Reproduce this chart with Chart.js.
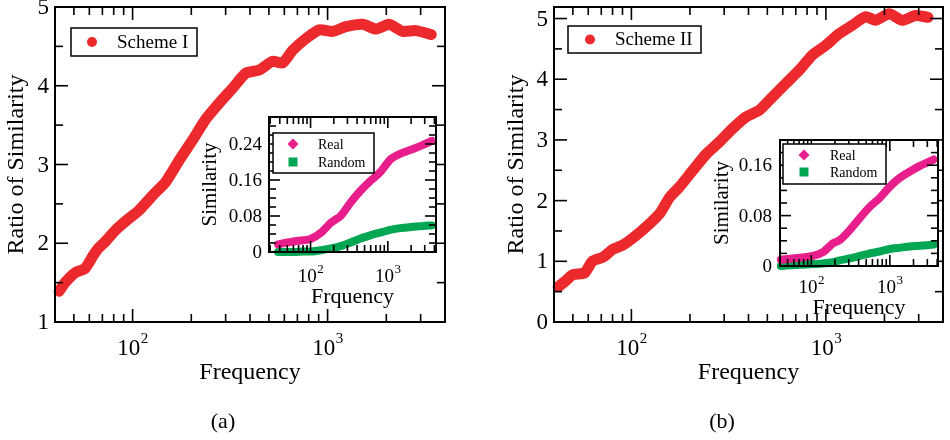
<!DOCTYPE html>
<html>
<head>
<meta charset="utf-8">
<script src="https://cdn.jsdelivr.net/npm/chart.js@4.4.1/dist/chart.umd.min.js"></script>
<style>
  body { margin: 0; background: #fff; width: 950px; height: 440px; position: relative; overflow: hidden; }
  canvas { position: absolute; }
</style>
</head>
<body>
<canvas id="mainA" width="450" height="440" style="left:0;top:0"></canvas>
<canvas id="mainB" width="450" height="440" style="left:500px;top:0"></canvas>
<canvas id="insetA" width="250" height="210" style="left:195px;top:105px"></canvas>
<canvas id="insetB" width="250" height="200" style="left:700px;top:125px"></canvas>
<script>
// ---- data ----
const freqA  = [42, 45, 51, 57, 63, 67, 73, 82, 92, 108, 127, 148, 174, 203, 238, 278, 326, 381, 446, 522, 588, 662, 775, 906, 1061, 1242, 1513, 1770, 2070, 2427, 2838, 3400];
const ratioA = [1.39, 1.50, 1.63, 1.68, 1.85, 1.94, 2.03, 2.17, 2.28, 2.42, 2.61, 2.78, 3.06, 3.31, 3.58, 3.78, 3.97, 4.16, 4.20, 4.31, 4.29, 4.45, 4.60, 4.71, 4.69, 4.75, 4.78, 4.72, 4.78, 4.69, 4.70, 4.65];

const freqB  = [42, 46, 50, 57.5, 63, 71.6, 80.5, 90.6, 106, 124, 140, 157, 177, 207, 243, 284, 332, 389, 455, 532, 623, 730, 853, 1000, 1170, 1370, 1603, 1804, 2112, 2473, 2890, 3350];
const ratioB = [0.58, 0.68, 0.78, 0.81, 1.00, 1.07, 1.20, 1.27, 1.43, 1.62, 1.79, 2.05, 2.23, 2.50, 2.77, 2.97, 3.19, 3.38, 3.49, 3.71, 3.93, 4.15, 4.40, 4.56, 4.75, 4.89, 5.03, 4.97, 5.08, 4.97, 5.05, 5.02];

const insetFreqA = [38, 50, 63, 80, 100, 137, 183, 245, 330, 443, 595, 795, 1070, 1437, 2125, 2850, 3700];
const realA      = [0.017, 0.021, 0.024, 0.026, 0.029, 0.043, 0.065, 0.080, 0.110, 0.136, 0.158, 0.177, 0.205, 0.218, 0.229, 0.238, 0.247];
const randomA    = [0.000, 0.000, 0.000, 0.001, 0.001, 0.004, 0.008, 0.013, 0.021, 0.030, 0.037, 0.043, 0.049, 0.053, 0.056, 0.058, 0.059];

const insetFreqB = [41, 71, 105, 141, 189, 230, 309, 414, 556, 743, 1000, 1343, 1800, 2414, 3600];
const realB      = [0.010, 0.013, 0.016, 0.022, 0.036, 0.041, 0.057, 0.076, 0.094, 0.108, 0.126, 0.140, 0.150, 0.159, 0.169];
const randomB    = [0.000, 0.002, 0.003, 0.004, 0.006, 0.009, 0.012, 0.016, 0.020, 0.023, 0.027, 0.029, 0.031, 0.032, 0.034];

// tick labels
const xDecades     = [2, 3];
const mainTicksA   = [1, 2, 3, 4, 5];
const mainTicksB   = [0, 1, 2, 3, 4, 5];
const insetTicksA  = [0, 0.08, 0.16, 0.24];
const insetTicksB  = [0, 0.08, 0.16];

const RED = "#ec2a2d";
const MAGENTA = "#e81e8c";
const GREEN = "#00a651";
const SERIF = '"Liberation Serif", "Times New Roman", serif';

function pts(xs, ys) {
    return xs.map((x, i) => ({ x, y: ys[i] }));
}

function drawMarker(ctx, kind, x, y, color) {
    ctx.fillStyle = color;
    ctx.beginPath();
    if(kind === "circle") {
        ctx.arc(x, y, 5, 0, Math.PI * 2);
    } else if(kind === "diamond") {
        ctx.moveTo(x, y - 5.5); ctx.lineTo(x + 5.5, y); ctx.lineTo(x, y + 5.5); ctx.lineTo(x - 5.5, y);
        ctx.closePath();
    } else {
        ctx.rect(x - 4.5, y - 4.5, 9, 9);
    }
    ctx.fill();
}

// frame, inward ticks, labels, titles and legend box
const framePlugin = {
    id: "frame",
    beforeDatasetsDraw(chart, args, o) {
        if(!o.fillArea) return;
        const { ctx, chartArea: a } = chart;
        ctx.save();
        ctx.fillStyle = "#fff";
        ctx.fillRect(a.left, a.top, a.width, a.height);
        ctx.restore();
    },
    afterDatasetsDraw(chart, args, o) {
        const { ctx, chartArea: a, scales: { x, y } } = chart;
        ctx.save();
        ctx.strokeStyle = "#000";
        ctx.fillStyle = "#000";

        const seg = (x1, y1, x2, y2) => {
            ctx.beginPath(); ctx.moveTo(x1, y1); ctx.lineTo(x2, y2); ctx.stroke();
        };
        ctx.lineWidth = 1.6;

        // y ticks
        const nMinor = Math.round((y.max - y.min) / o.yMinor);
        for(let i = 0; i <= nMinor; i++) {
            const v = y.min + i * o.yMinor;
            const r = v / o.yMajor;
            const major = Math.abs(r - Math.round(r)) < 1e-6;
            const py = y.getPixelForValue(v);
            const len = major ? o.majorLen : o.minorLen;
            seg(a.left, py, a.left + len, py);
            seg(a.right, py, a.right - len, py);
        }
        // x ticks (log)
        for(let e = Math.floor(Math.log10(x.min)); e <= Math.ceil(Math.log10(x.max)); e++) {
            for(let m = 1; m <= 9; m++) {
                const v = m * Math.pow(10, e);
                if(v <= x.min || v >= x.max) continue;
                const px = x.getPixelForValue(v);
                const len = m === 1 ? o.majorLen : o.minorLen;
                seg(px, a.bottom, px, a.bottom - len);
                seg(px, a.top, px, a.top + len);
            }
        }

        // frame
        ctx.lineWidth = 2;
        ctx.strokeRect(a.left, a.top, a.width, a.height);

        // y tick labels
        ctx.font = o.tickFont + "px " + SERIF;
        ctx.textAlign = "right";
        ctx.textBaseline = "middle";
        for(const v of o.yLabels) {
            const txt = v === 0 ? "0" : (o.yDigits ? v.toFixed(o.yDigits) : String(v));
            ctx.fillText(txt, a.left - o.yLabelGap, y.getPixelForValue(v) + 1);
        }

        // x tick labels 10^n
        ctx.textBaseline = "alphabetic";
        ctx.textAlign = "left";
        for(const e of xDecades) {
            const px = x.getPixelForValue(Math.pow(10, e));
            ctx.font = o.xFont + "px " + SERIF;
            const w1 = ctx.measureText("10").width;
            ctx.font = o.supFont + "px " + SERIF;
            const w2 = ctx.measureText(String(e)).width;
            const start = px - (w1 + w2) / 2;
            ctx.font = o.xFont + "px " + SERIF;
            ctx.fillText("10", start, a.bottom + o.xLabelDrop);
            ctx.font = o.supFont + "px " + SERIF;
            ctx.fillText(String(e), start + w1 + 0.5, a.bottom + o.xLabelDrop - o.supRaise);
        }

        // axis titles
        ctx.textAlign = "center";
        ctx.textBaseline = "middle";
        ctx.font = o.xTitle.size + "px " + SERIF;
        ctx.fillText(o.xTitle.text, (a.left + a.right) / 2, o.xTitle.y);
        ctx.save();
        ctx.font = o.yTitle.size + "px " + SERIF;
        ctx.translate(o.yTitle.x, (a.top + a.bottom) / 2);
        ctx.rotate(-Math.PI / 2);
        ctx.fillText(o.yTitle.text, 0, 0);
        ctx.restore();

        if(o.caption) {
            ctx.font = o.caption.size + "px " + SERIF;
            ctx.fillText(o.caption.text, o.caption.x, o.caption.y);
        }

        // legend box
        const lg = o.legend;
        ctx.fillStyle = "#fff";
        ctx.fillRect(lg.x, lg.y, lg.w, lg.h);
        ctx.lineWidth = 1.5;
        ctx.strokeRect(lg.x, lg.y, lg.w, lg.h);
        ctx.font = lg.size + "px " + SERIF;
        ctx.textAlign = "left";
        chart.data.datasets.forEach((ds, i) => {
            const my = lg.y + lg.rowTop + i * lg.rowGap;
            drawMarker(ctx, ds.marker, lg.x + lg.markerX, my, ds.borderColor);
            ctx.fillStyle = "#000";
            ctx.fillText(ds.label, lg.x + lg.textX, my + 1);
        });

        ctx.restore();
    },
};

function lineSet(label, data, color, width, marker) {
    return {
        label, data, marker,
        borderColor: color,
        backgroundColor: color,
        borderWidth: width,
        pointRadius: 0,
        borderCapStyle: "round",
        borderJoinStyle: "round",
        tension: 0.2,
        clip: false,
    };
}

function makeChart(id, datasets, xr, yr, pad, deco) {
    return new Chart(document.getElementById(id), {
        type: "line",
        data: { datasets },
        options: {
            responsive: false,
            animation: false,
            layout: { padding: pad },
            scales: {
                x: { type: "logarithmic", min: xr[0], max: xr[1], display: false },
                y: { type: "linear", min: yr[0], max: yr[1], display: false },
            },
            plugins: {
                legend: { display: false },
                tooltip: { enabled: false },
                frame: deco,
            },
        },
        plugins: [framePlugin],
    });
}

const mainDeco = {
    majorLen: 13, minorLen: 8, yMajor: 1, yMinor: 0.5,
    tickFont: 23, yLabelGap: 6, xFont: 23, supFont: 15, xLabelDrop: 33, supRaise: 12,
    xTitle: { text: "Frequency", size: 24, y: 373 },
};

makeChart("mainA", [lineSet("Scheme I", pts(freqA, ratioA), RED, 11, "circle")],
    [40, 4000], [1, 5], { left: 55, top: 7, right: 5, bottom: 118 },
    Object.assign({}, mainDeco, {
        yLabels: mainTicksA,
        yTitle: { text: "Ratio of Similarity", size: 24, x: 17 },
        caption: { text: "(a)", size: 22, x: 223, y: 422 },
        legend: { x: 71, y: 28, w: 126, h: 28, size: 19, rowTop: 14, rowGap: 0, markerX: 21, textX: 46 },
    }));

makeChart("mainB", [lineSet("Scheme II", pts(freqB, ratioB), RED, 11, "circle")],
    [40, 4000], [0, 5.19], { left: 54, top: 7, right: 7, bottom: 118 },
    Object.assign({}, mainDeco, {
        yLabels: mainTicksB,
        yTitle: { text: "Ratio of Similarity", size: 24, x: 17 },
        caption: { text: "(b)", size: 22, x: 222, y: 422 },
        legend: { x: 68, y: 26, w: 133, h: 27, size: 19, rowTop: 13.5, rowGap: 0, markerX: 22, textX: 47 },
    }));

const insetDeco = {
    fillArea: true, majorLen: 11, minorLen: 7, yMajor: 0.08, yMinor: 0.02, yDigits: 2,
    tickFont: 19, yLabelGap: 7, xFont: 19, supFont: 13, supRaise: 9,
};

makeChart("insetA", [
        lineSet("Real", pts(insetFreqA, realA), MAGENTA, 8, "diamond"),
        lineSet("Random", pts(insetFreqA, randomA), GREEN, 8, "square"),
    ],
    [29, 4200], [0, 0.3], { left: 74, top: 12, right: 9, bottom: 63 },
    Object.assign({}, insetDeco, {
        yLabels: insetTicksA, xLabelDrop: 30,
        xTitle: { text: "Frquency", size: 22, y: 192 },
        yTitle: { text: "Similarity", size: 21, x: 15 },
        legend: { x: 78, y: 28, w: 101, h: 40, size: 14, rowTop: 11, rowGap: 18, markerX: 20, textX: 45 },
    }));

makeChart("insetB", [
        lineSet("Real", pts(insetFreqB, realB), MAGENTA, 8, "diamond"),
        lineSet("Random", pts(insetFreqB, randomB), GREEN, 8, "square"),
    ],
    [40, 4100], [0, 0.2], { left: 80, top: 15, right: 12, bottom: 59 },
    Object.assign({}, insetDeco, {
        yLabels: insetTicksB, xLabelDrop: 27, yLabelGap: 8,
        xTitle: { text: "Frequency", size: 22, y: 183 },
        yTitle: { text: "Similarity", size: 21, x: 22 },
        legend: { x: 83, y: 19, w: 103, h: 40, size: 14, rowTop: 11, rowGap: 17, markerX: 21, textX: 47 },
    }));
</script>
</body>
</html>
